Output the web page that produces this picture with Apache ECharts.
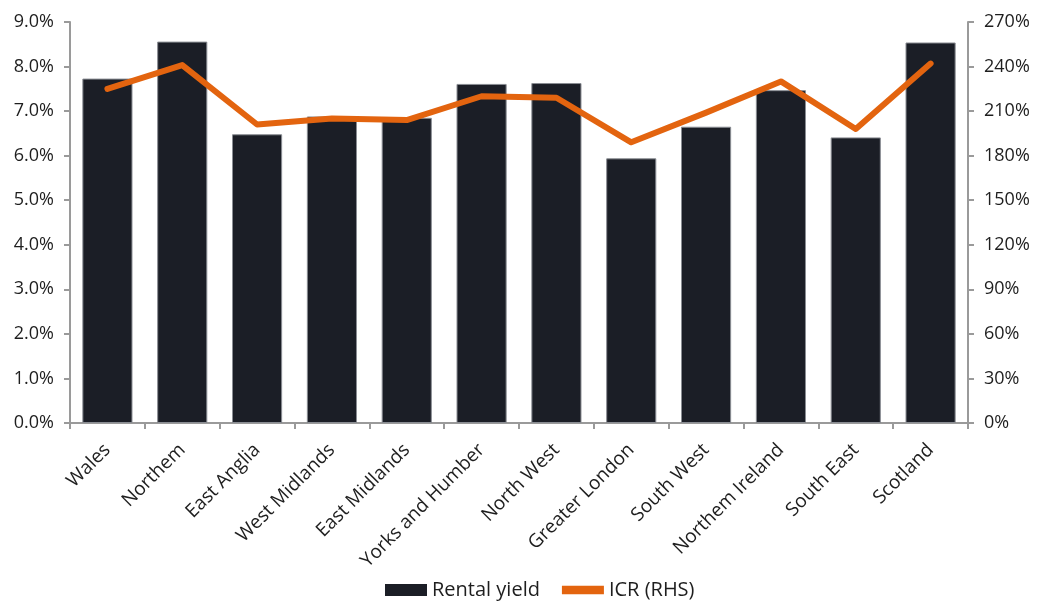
<!DOCTYPE html>
<html><head><meta charset="utf-8">
<script src="https://cdn.jsdelivr.net/npm/echarts@6/dist/echarts.min.js"></script>
<style>html,body{margin:0;padding:0;background:#fff}#c{width:1039px;height:607px}</style>
</head><body><div id="c"></div>
<script>
const categories = ["Wales","Northem","East Anglia","West Midlands","East Midlands","Yorks and Humber","North West","Greater London","South West","Northem Ireland","South East","Scotland"];
const rentalYield = [7.73, 8.56, 6.48, 6.88, 6.85, 7.61, 7.63, 5.94, 6.65, 7.47, 6.41, 8.54];
const icr = [225, 241, 201, 205, 204, 220, 219, 189, 209, 230, 198, 242];
const leftTicks = [0, 9, 1];
const rightTicks = [0, 270, 30];

const font = '"Open Sans", "Noto Sans", sans-serif';
const axisCol = '#9a9a9a';
const txtCol = '#1e1e1e';
const chart = echarts.init(document.getElementById('c'));
chart.setOption({
  animation: false,
  textStyle: {fontFamily: font},
  grid: {left: 70, right: 71, top: 22, bottom: 184},
  legend: {
    bottom: 2, left: 380, itemGap: 22, itemWidth: 42, itemHeight: 12, itemTextGap: 7,
    textStyle: {fontFamily: font, fontSize: 20, color: txtCol},
    data: [
      {name: 'Rental yield', icon: 'rect', itemStyle: {borderWidth: 0}},
      {name: 'ICR (RHS)', icon: 'path://M0,0 L100,0 L100,20 L0,20 Z', itemStyle: {borderWidth: 0}}
    ]
  },
  xAxis: {
    type: 'category', data: categories,
    axisLine: {lineStyle: {color: axisCol, width: 2}},
    axisTick: {show: true, length: 6, lineStyle: {color: axisCol, width: 2}},
    axisLabel: {rotate: 45, interval: 0, margin: 24, fontFamily: font, fontSize: 19, color: txtCol}
  },
  yAxis: [
    {type: 'value', min: leftTicks[0], max: leftTicks[1], interval: leftTicks[2],
     axisLine: {show: true, lineStyle: {color: axisCol, width: 2}},
     axisTick: {show: true, length: 6, lineStyle: {color: axisCol, width: 2}},
     splitLine: {show: false},
     axisLabel: {margin: 16, fontFamily: font, fontSize: 18, color: txtCol, formatter: v => v.toFixed(1) + '%'}},
    {type: 'value', min: rightTicks[0], max: rightTicks[1], interval: rightTicks[2], position: 'right',
     axisLine: {show: true, lineStyle: {color: axisCol, width: 2}},
     axisTick: {show: true, length: 6, lineStyle: {color: axisCol, width: 2}},
     splitLine: {show: false},
     axisLabel: {margin: 16, fontFamily: font, fontSize: 18, color: txtCol, formatter: v => v + '%'}}
  ],
  series: [
    {name: 'Rental yield', type: 'bar', yAxisIndex: 0, data: rentalYield, barCategoryGap: '33%',
     itemStyle: {color: '#1b1e26', borderColor: '#8a8d93', borderWidth: 1}},
    {name: 'ICR (RHS)', type: 'line', yAxisIndex: 1, data: icr, symbol: 'none',
     lineStyle: {color: '#e3640f', width: 6, cap: 'round', join: 'round'},
     itemStyle: {color: '#e3640f'}}
  ]
});
</script></body></html>
